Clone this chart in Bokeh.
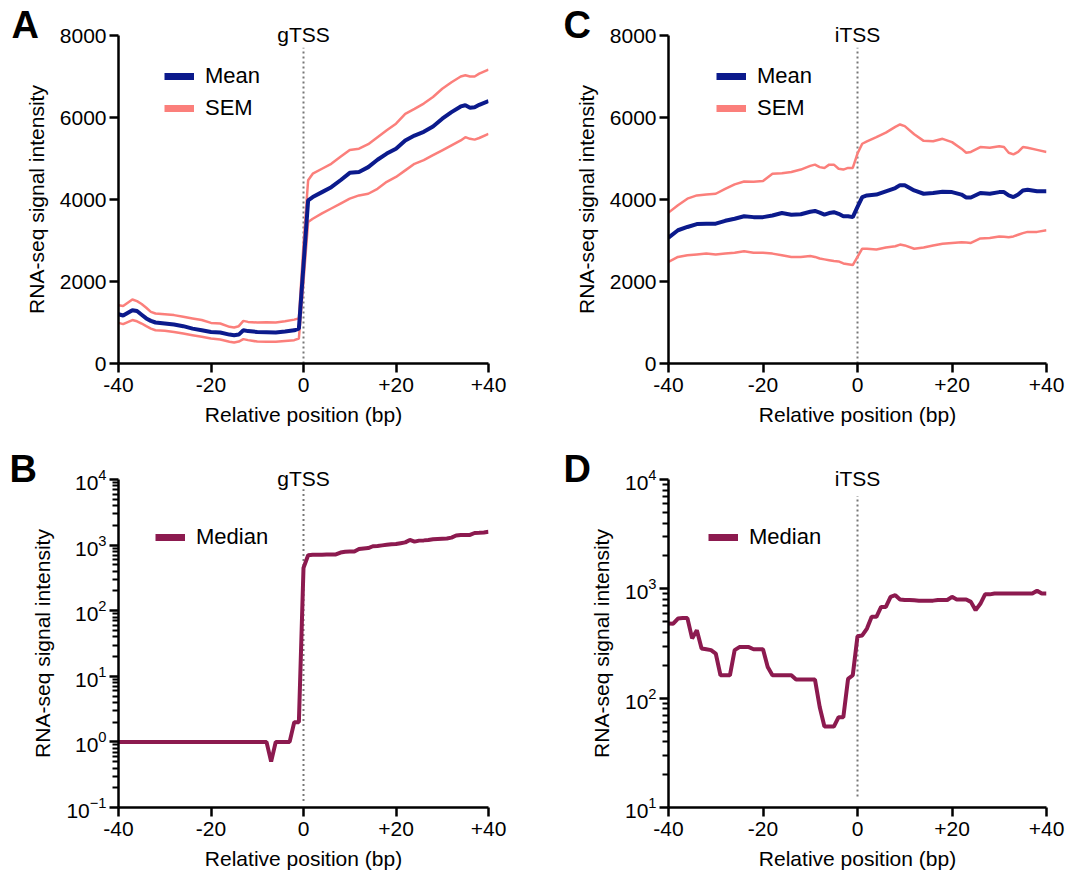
from bokeh.plotting import figure
from bokeh.layouts import gridplot
from bokeh.models import (Range1d, FixedTicker, Legend, LegendItem, Title)
from bokeh.embed import file_html
from bokeh.resources import INLINE

# ---------------- data ----------------
# Panel A (gTSS) mean / SEM
a_x = [-40, -39, -37, -36, -35, -34, -33, -32, -30, -28, -26, -24, -22, -20, -18, -16, -15, -14, -13, -12,
       -10, -8, -6, -4, -2, -1, 0, 1, 2, 4, 6, 8, 10, 12, 14, 16, 18, 20, 22, 24, 26, 28, 30, 32, 34, 35,
       36, 37, 38, 40]
a_mean = [1200, 1170, 1300, 1280, 1190, 1100, 1040, 1000, 975, 950, 910, 850, 810, 770, 755, 705, 690, 705, 810, 790,
          770, 765, 755, 780, 810, 850, 2400, 3980, 4060, 4180, 4300, 4470, 4650, 4670, 4790, 4970, 5120, 5240, 5440, 5560, 5650, 5780, 5970, 6130, 6270, 6300,
          6240, 6250, 6310, 6400]
a_upper = [1420, 1400, 1560, 1520, 1450, 1360, 1260, 1220, 1200, 1180, 1140, 1100, 1060, 990, 975, 895, 880, 910, 1040, 1015,
           1000, 1005, 1000, 1030, 1070, 1100, 2900, 4470, 4630, 4750, 4870, 5040, 5210, 5240, 5350, 5520, 5690, 5850, 6090, 6210, 6340, 6500, 6700, 6860, 7000, 7030,
           7000, 7000, 7070, 7170]
a_lower = [990, 960, 1060, 1030, 975, 910, 850, 810, 800, 770, 730, 690, 650, 610, 585, 530, 510, 535, 595, 570,
           535, 530, 530, 550, 570, 610, 2000, 3450, 3530, 3660, 3780, 3900, 4020, 4100, 4140, 4260, 4430, 4550, 4710, 4870, 4960, 5080, 5200, 5320, 5440, 5520,
           5480, 5460, 5500, 5600]

# Panel C (iTSS) mean / SEM
c_x = [-40, -38, -36, -34, -32, -30, -28, -26, -24, -22, -20, -18, -16, -14, -12, -10, -9, -8, -7, -6, -5, -4, -3, -2, -1,
       0, 1, 2, 4, 6, 8, 9, 10, 12, 14, 16, 18, 20, 22, 23, 24, 26, 28, 30, 31, 32, 33, 34, 35, 36, 38, 40]
c_mean = [3070, 3250, 3330, 3400, 3410, 3410, 3480, 3530, 3590, 3570, 3570, 3610, 3670, 3630, 3640, 3700, 3720, 3680, 3630, 3670, 3690, 3650, 3590, 3590, 3570,
          3820, 4060, 4100, 4120, 4200, 4280, 4350, 4350, 4220, 4140, 4160, 4190, 4180, 4120, 4050, 4050, 4160, 4140, 4180, 4180, 4100, 4060, 4120, 4220, 4240, 4200, 4200]
c_upper = [3680, 3860, 4020, 4100, 4120, 4140, 4260, 4370, 4440, 4430, 4450, 4630, 4640, 4670, 4730, 4820, 4850, 4790, 4770, 4850, 4850, 4750, 4730, 4770, 4770,
           5120, 5360, 5420, 5520, 5630, 5770, 5830, 5790, 5590, 5430, 5420, 5480, 5400, 5240, 5140, 5160, 5280, 5260, 5300, 5280, 5140, 5100, 5160, 5280, 5260, 5210, 5160]
c_lower = [2480, 2600, 2640, 2660, 2680, 2660, 2680, 2700, 2740, 2700, 2700, 2680, 2640, 2600, 2600, 2620, 2600, 2560, 2540, 2520, 2500, 2490, 2440, 2420, 2400,
           2600, 2800, 2800, 2780, 2830, 2860, 2900, 2880, 2800, 2830, 2880, 2920, 2940, 2960, 2950, 2940, 3050, 3060, 3100, 3090, 3080, 3100, 3140, 3180, 3210, 3210, 3250]

# Panel B (gTSS) median, positions -40..+40
b_x = list(range(-40, 41))
b_median = ([1] * 33 + [0.5, 1, 1, 1, 1, 2, 2, 450, 700,
            710, 710, 715, 720, 720, 720, 770, 790, 800, 800, 870, 890, 900, 960, 970, 990, 1010, 1030, 1040,
            1070, 1100, 1200, 1130, 1170, 1180, 1200, 1230, 1240, 1250, 1260, 1300, 1400, 1420, 1430, 1430,
            1530, 1540, 1560, 1600])

# Panel D (iTSS) median, positions -40..+40
d_x = list(range(-40, 41))
d_median = [482, 480, 535, 540, 540, 352, 419, 285, 280, 275, 256, 162, 162, 162, 275, 293, 293, 293, 280, 280,
            280, 193, 162, 162, 162, 162, 162, 148, 148, 148, 148, 148, 83, 55, 55, 55, 67, 67, 150, 162,
            369, 375, 433, 555, 555, 683, 683, 845, 875, 800, 790, 790, 785, 780, 780, 780, 780, 790, 790, 790,
            845, 800, 800, 800, 760, 638, 730, 890, 890, 905, 905, 905, 905, 905, 905, 905, 905, 905, 960, 905, 905]

x_ticks = [-40, -20, 0, 20, 40]
x_tick_labels = {-40: "-40", -20: "-20", 0: "0", 20: "+20", 40: "+40"}
lin_ticks = [0, 2000, 4000, 6000, 8000]

MEAN_C = "#0b1a8c"
SEM_C = "#fb7f7b"
MED_C = "#8c1a4f"
FONT = "Liberation Sans"
TICK_FS = "21px"
LAB_FS = "21px"


def style(p):
    p.outline_line_color = None
    p.xgrid.visible = False
    p.ygrid.visible = False
    p.border_fill_color = "white"
    for ax in (p.xaxis[0], p.yaxis[0]):
        ax.axis_line_width = 2.5
        ax.major_tick_line_width = 2.5
        ax.major_tick_in = 0
        ax.major_tick_out = 9
        ax.major_label_text_font = FONT
        ax.major_label_text_font_size = TICK_FS
        ax.major_label_text_color = "black"
        ax.axis_label_text_font = FONT
        ax.axis_label_text_font_size = LAB_FS
        ax.axis_label_text_font_style = "normal"
        ax.axis_label_text_color = "black"
    p.xaxis[0].ticker = FixedTicker(ticks=x_ticks)
    p.xaxis[0].major_label_overrides = x_tick_labels
    p.xaxis[0].minor_tick_line_color = None
    p.xaxis[0].axis_label = "Relative position (bp)"
    p.xaxis[0].axis_label_standoff = 8
    p.xaxis[0].major_label_standoff = 5
    p.yaxis[0].axis_label = "RNA-seq signal intensity"
    p.yaxis[0].axis_label_standoff = 9
    p.yaxis[0].major_label_standoff = 3


def add_headers(p, site_text, letter_text, letter_offset):
    # site label (closest to the frame), then the panel letter (further out)
    p.add_layout(Title(text=site_text, align="center", vertical_align="bottom", standoff=-21,
                       text_font=FONT, text_font_size="21px", text_font_style="normal",
                       text_color="black"), "above")
    p.add_layout(Title(text=letter_text, align="left", vertical_align="bottom", standoff=-29,
                       offset=letter_offset, text_font=FONT, text_font_size="38px",
                       text_font_style="bold", text_color="black"), "above")


def add_dotted(p, ytop, ybottom):
    p.segment(x0=[0], y0=[ybottom], x1=[0], y1=[ytop], line_color="#777777",
              line_width=2, line_dash="2 3")


def make_legend(p, entries, loc):
    items = []
    for label, color, xs, ys in entries:
        # hidden copy of the series, used only to draw a thick legend swatch
        proxy = p.line(xs, ys, line_color=color, line_width=7, visible=False)
        items.append(LegendItem(label=label, renderers=[proxy]))
    leg = Legend(items=items, location=loc, border_line_alpha=0, background_fill_alpha=0,
                 label_text_font=FONT, label_text_font_size="22px", label_text_color="black",
                 glyph_width=30, glyph_height=22, label_standoff=11, spacing=6, padding=0, margin=0,
                 click_policy="none")
    p.add_layout(leg)


def linear_panel(site, letter_text, letter_offset, xs, mean, upper, lower, w, h, bl, br, bt, bb, legend_loc):
    p = figure(width=w, height=h, output_backend="svg", toolbar_location=None,
               x_range=Range1d(-40, 40), y_range=Range1d(0, 8000),
               min_border_left=bl, min_border_right=br, min_border_top=bt, min_border_bottom=bb)
    style(p)
    p.yaxis[0].ticker = FixedTicker(ticks=lin_ticks)
    p.yaxis[0].minor_tick_line_color = None
    add_headers(p, site, letter_text, letter_offset)
    add_dotted(p, 8000 * 0.963, 0)
    p.line(xs, upper, line_color=SEM_C, line_width=2.5)
    p.line(xs, lower, line_color=SEM_C, line_width=2.5)
    p.line(xs, mean, line_color=MEAN_C, line_width=4)
    make_legend(p, [("Mean", MEAN_C, xs, mean), ("SEM", SEM_C, xs, upper)], legend_loc)
    return p


def log_panel(site, letter_text, letter_offset, xs, med, exp_min, exp_max, w, h, bl, br, bt, bb, legend_loc):
    ymin, ymax = 10.0 ** exp_min, 10.0 ** exp_max
    p = figure(width=w, height=h, output_backend="svg", toolbar_location=None,
               x_range=Range1d(-40, 40), y_range=Range1d(ymin, ymax), y_axis_type="log",
               min_border_left=bl, min_border_right=br, min_border_top=bt, min_border_bottom=bb)
    decades = [10.0 ** k for k in range(exp_min, exp_max + 1)]
    minors = [m * 10.0 ** k for k in range(exp_min, exp_max) for m in range(2, 10)]
    yax = p.yaxis[0]
    yax.ticker = FixedTicker(ticks=decades, minor_ticks=minors)
    yax.minor_tick_line_color = "#000000"
    yax.minor_tick_line_width = 2
    yax.minor_tick_out = 6
    yax.minor_tick_in = 0
    style(p)
    add_headers(p, site, letter_text, letter_offset)
    add_dotted(p, ymax / 10 ** 0.15, ymin * 10 ** 0.1)
    p.line(xs, med, line_color=MED_C, line_width=4)
    make_legend(p, [("Median", MED_C, xs, med)], legend_loc)
    return p


pA = linear_panel("gTSS", "A", -107, a_x, a_mean, a_upper, a_lower, 540, 440, 118, 52, 35, 77, (46, 242))
pC = linear_panel("iTSS", "C", -105, c_x, c_mean, c_upper, c_lower, 530, 440, 128, 24, 35, 77, (48, 242))
pB = log_panel("gTSS", "B", -109, b_x, b_median, -1, 4, 540, 440, 118, 52, 39, 73, (37, 257))
pD = log_panel("iTSS", "D", -105, d_x, d_median, 1, 4, 530, 440, 128, 24, 39, 73, (40, 257))

grid = gridplot([[pA, pC], [pB, pD]], toolbar_location=None)
open("out.html", "w").write(file_html(grid, INLINE))
